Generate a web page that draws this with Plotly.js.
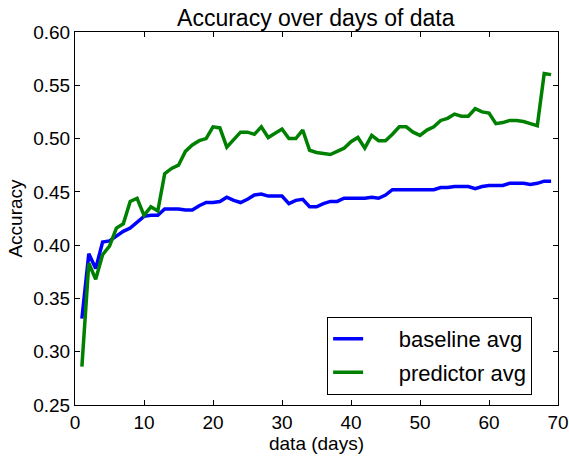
<!DOCTYPE html>
<html>
<head>
<meta charset="utf-8">
<script src="https://cdn.plot.ly/plotly-3.0.1.min.js"></script>
<style>
  html, body { margin: 0; padding: 0; background: #fff; }
  #chart { width: 569px; height: 457px; }
</style>
</head>
<body>
<div id="chart"></div>
<script>
// Days of data used (1..69)
const days = Array.from({length: 69}, (_, i) => i + 1);

// Average accuracy of the baseline model per day
const baselineAvg = [
  0.331, 0.392, 0.378, 0.403, 0.404, 0.409, 0.413, 0.416, 0.422, 0.427,
  0.428, 0.428, 0.434, 0.434, 0.434, 0.433, 0.433, 0.437, 0.440, 0.440,
  0.441, 0.445, 0.442, 0.440, 0.443, 0.447, 0.448, 0.446, 0.446, 0.446,
  0.439, 0.442, 0.443, 0.436, 0.436, 0.439, 0.441, 0.441, 0.444, 0.444,
  0.444, 0.444, 0.445, 0.444, 0.447, 0.452, 0.452, 0.452, 0.452, 0.452,
  0.452, 0.452, 0.454, 0.454, 0.455, 0.455, 0.455, 0.453, 0.455, 0.456,
  0.456, 0.456, 0.458, 0.458, 0.458, 0.457, 0.458, 0.460, 0.460
];

// Average accuracy of the predictor model per day
const predictorAvg = [
  0.286, 0.383, 0.368, 0.391, 0.399, 0.416, 0.420, 0.441, 0.444, 0.428,
  0.436, 0.432, 0.467, 0.472, 0.475, 0.488, 0.494, 0.498, 0.500, 0.511,
  0.510, 0.492, 0.499, 0.506, 0.506, 0.504, 0.511, 0.501, 0.505, 0.509,
  0.500, 0.500, 0.508, 0.489, 0.487, 0.486, 0.485, 0.488, 0.491, 0.497,
  0.501, 0.491, 0.503, 0.498, 0.498, 0.504, 0.511, 0.511, 0.506, 0.503,
  0.508, 0.511, 0.517, 0.519, 0.523, 0.521, 0.521, 0.528, 0.525, 0.524,
  0.514, 0.515, 0.517, 0.517, 0.516, 0.514, 0.512, 0.561, 0.560
];

const seriesNames = ['baseline avg', 'predictor avg'];

const FONT = 'Liberation Sans, Arial, sans-serif';
// leading non-breaking spaces widen the gap between legend line and label
const PAD = '\u00a0\u00a0\u00a0\u00a0\u00a0';

const traces = [
  {
    x: days, y: baselineAvg, name: PAD + seriesNames[0], legendgroup: 'a',
    type: 'scatter', mode: 'lines',
    line: {color: '#0000ff', width: 3.5}
  },
  {
    x: days, y: predictorAvg, name: PAD + seriesNames[1], legendgroup: 'b',
    type: 'scatter', mode: 'lines',
    line: {color: '#008000', width: 3.5}
  }
];

const axisCommon = {
  showline: true, linecolor: '#000', linewidth: 1,
  mirror: 'ticks', ticks: 'inside', ticklen: 5, tickcolor: '#000',
  showgrid: false, zeroline: false,
  tickfont: {family: FONT, size: 19, color: '#000'}
};

const layout = {
  width: 569, height: 457,
  margin: {l: 75, r: 11, t: 32, b: 52},
  paper_bgcolor: '#fff', plot_bgcolor: '#fff',
  font: {family: FONT, color: '#000'},
  title: {
    text: 'Accuracy over days of data',
    font: {family: FONT, size: 23, color: '#000'},
    x: 0.555, xanchor: 'center', y: 0.961, yanchor: 'middle'
  },
  xaxis: Object.assign({}, axisCommon, {
    range: [0, 70], tick0: 0, dtick: 10,
    title: {text: 'data (days)', font: {family: FONT, size: 19}, standoff: 1}
  }),
  yaxis: Object.assign({}, axisCommon, {
    range: [0.25, 0.60], tick0: 0.25, dtick: 0.05, tickformat: '.2f',
    title: {text: 'Accuracy', font: {family: FONT, size: 19}, standoff: 5}
  }),
  showlegend: true,
  legend: {
    x: 0.522, y: 0.027, xanchor: 'left', yanchor: 'bottom',
    bgcolor: '#fff', bordercolor: '#000', borderwidth: 1,
    font: {family: FONT, size: 22, color: '#000'},
    tracegroupgap: 2, itemwidth: 30
  }
};

Plotly.newPlot('chart', traces, layout, {displayModeBar: false, staticPlot: true});
</script>
</body>
</html>
